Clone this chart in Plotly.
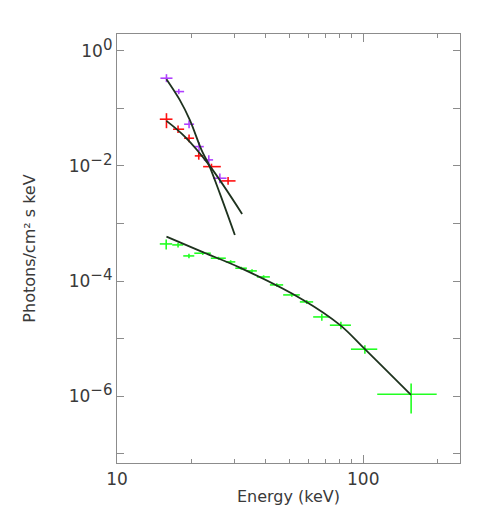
import plotly.graph_objects as go

# purple data set
purple_e = [15.88, 17.82, 19.62, 21.54, 23.59, 26.16]
purple_e_lo = [15.01, 17.16, 18.73, 20.56, 22.52, 24.56]
purple_e_hi = [16.80, 18.73, 20.56, 22.52, 24.56, 27.85]
purple_f = [0.333, 0.195, 0.0529, 0.0216, 0.0127, 0.0061]
purple_f_up = [0.058, 0.022, 0.009, 0.0042, 0.0026, 0.0013]
purple_f_dn = [0.049, 0.019, 0.008, 0.0036, 0.0022, 0.0011]

# red data set
red_e = [15.88, 17.70, 19.62, 21.48, 24.19, 28.26]
red_e_lo = [14.92, 16.89, 18.73, 20.70, 22.37, 26.50]
red_e_hi = [16.80, 18.73, 20.56, 22.37, 26.40, 30.30]
red_f = [0.0646, 0.0433, 0.0302, 0.0149, 0.0097, 0.00548]
red_f_up = [0.0176, 0.007, 0.005, 0.0024, 0.0012, 0.0009]
red_f_dn = [0.0195, 0.006, 0.0045, 0.0021, 0.0011, 0.0008]

# green data set
green_e = [15.84, 17.70, 19.60, 22.30, 25.85, 28.95, 31.95, 35.35,
           39.40, 44.55, 51.30, 58.95, 67.90, 81.15, 101.55, 156.5]
green_e_lo = [14.92, 16.76, 18.58, 20.60, 24.04, 27.66, 30.23, 33.68,
              36.98, 41.77, 47.30, 55.28, 62.62, 73.19, 89.13, 114.0]
green_e_hi = [16.76, 18.58, 20.60, 24.04, 27.66, 30.23, 33.68, 36.98,
              41.77, 47.30, 55.28, 62.62, 73.19, 89.13, 114.0, 198.8]
green_f = [4.41e-4, 4.24e-4, 2.73e-4, 3.04e-4, 2.49e-4, 2.15e-4, 1.67e-4, 1.50e-4,
           1.18e-4, 8.56e-5, 5.74e-5, 4.34e-5, 2.38e-5, 1.71e-5, 6.55e-6, 1.08e-6]
green_f_err = [0.88e-4, 0.4e-4, 0.25e-4, 0.2e-4, 0.15e-4, 0.15e-4, 0.1e-4, 0.1e-4,
               0.08e-4, 0.6e-5, 0.4e-5, 0.35e-5, 0.33e-5, 0.25e-5, 1.1e-6, 0.58e-6]

# model curves
purple_model_e = [15.88, 17.98, 19.75, 22.03, 23.59, 26.20, 30.10]
purple_model_f = [0.320, 0.1398, 0.0628, 0.01893, 0.01051, 3.26e-3, 6.32e-4]
red_model_e = [15.88, 18.85, 23.59, 32.22]
red_model_f = [0.0604, 0.0322, 0.01051, 1.464e-3]
green_model_e = [15.88, 22.31, 31.54, 57.03, 80.4, 101.6, 156.3]
green_model_f = [5.91e-4, 3.17e-4, 1.71e-4, 4.70e-5, 1.73e-5, 6.55e-6, 1.05e-6]

# axis ticks
x_tickvals = [10, 100]
x_ticktext = ["10", "100"]
x_minor = [20, 30, 40, 50, 60, 70, 80, 90, 200]
y_tickvals = [1, 1e-2, 1e-4, 1e-6]
y_exponents = ["0", "\u22122", "\u22124", "\u22126"]
y_minor = [1e-1, 1e-3, 1e-5, 1e-7]

MODEL_COLOR = "#1e321e"
AXIS_COLOR = "#8c8c8c"
FONT = "DejaVu Sans"

y_ticktext = ["10<sup><span style='font-size:15px'>%s</span></sup>" % p for p in y_exponents]

fig = go.Figure()


def add_data(e, lo, hi, f, up, dn, color):
    fig.add_trace(go.Scatter(
        x=e, y=f, mode="markers",
        marker=dict(size=2, color=color, opacity=0),
        error_x=dict(type="data", array=[h - v for h, v in zip(hi, e)],
                     arrayminus=[v - l for v, l in zip(e, lo)],
                     width=0, thickness=1.6, color=color),
        error_y=dict(type="data", array=up, arrayminus=dn,
                     width=0, thickness=1.6, color=color),
        showlegend=False, hoverinfo="skip",
    ))


add_data(green_e, green_e_lo, green_e_hi, green_f, green_f_err, green_f_err, "#22ff22")
add_data(red_e, red_e_lo, red_e_hi, red_f, red_f_up, red_f_dn, "#ff1010")
add_data(purple_e, purple_e_lo, purple_e_hi, purple_f, purple_f_up, purple_f_dn, "#b040ff")

for me, mf in [(purple_model_e, purple_model_f), (red_model_e, red_model_f),
               (green_model_e, green_model_f)]:
    fig.add_trace(go.Scatter(
        x=me, y=mf, mode="lines", line=dict(color=MODEL_COLOR, width=1.8, shape="spline"),
        showlegend=False, hoverinfo="skip",
    ))

# the page body adds 8px, so the figure is drawn a little smaller
fig.update_layout(
    width=480, height=507,
    margin=dict(l=109, r=28, t=26, b=52),
    paper_bgcolor="white", plot_bgcolor="white",
    font=dict(family=FONT, size=16, color="#3a3a3a"),
)
fig.update_xaxes(
    type="log", range=[1, 2.393], automargin=False,
    tickvals=x_tickvals, ticktext=x_ticktext,
    ticks="inside", ticklen=8, tickcolor=AXIS_COLOR, tickwidth=1.2,
    minor=dict(tickvals=x_minor, ticks="inside", ticklen=4, tickcolor=AXIS_COLOR, tickwidth=1),
    showline=True, linecolor=AXIS_COLOR, linewidth=1.3, mirror="allticks",
    showgrid=False, zeroline=False,
    tickfont=dict(size=17),
    title=dict(text="Energy (keV)", font=dict(size=16), standoff=3),
)
fig.update_yaxes(
    type="log", range=[-7.16, 0.29], automargin=False,
    tickvals=y_tickvals, ticktext=y_ticktext,
    ticks="inside", ticklen=7, tickcolor=AXIS_COLOR, tickwidth=1.2,
    minor=dict(tickvals=y_minor, ticks="inside", ticklen=7, tickcolor=AXIS_COLOR, tickwidth=1.2),
    showline=True, linecolor=AXIS_COLOR, linewidth=1.3, mirror="allticks",
    showgrid=False, zeroline=False,
    tickfont=dict(size=17),
    title=dict(text="Photons/cm² s keV", font=dict(size=16), standoff=29),
)

fig.write_html("out.html")
